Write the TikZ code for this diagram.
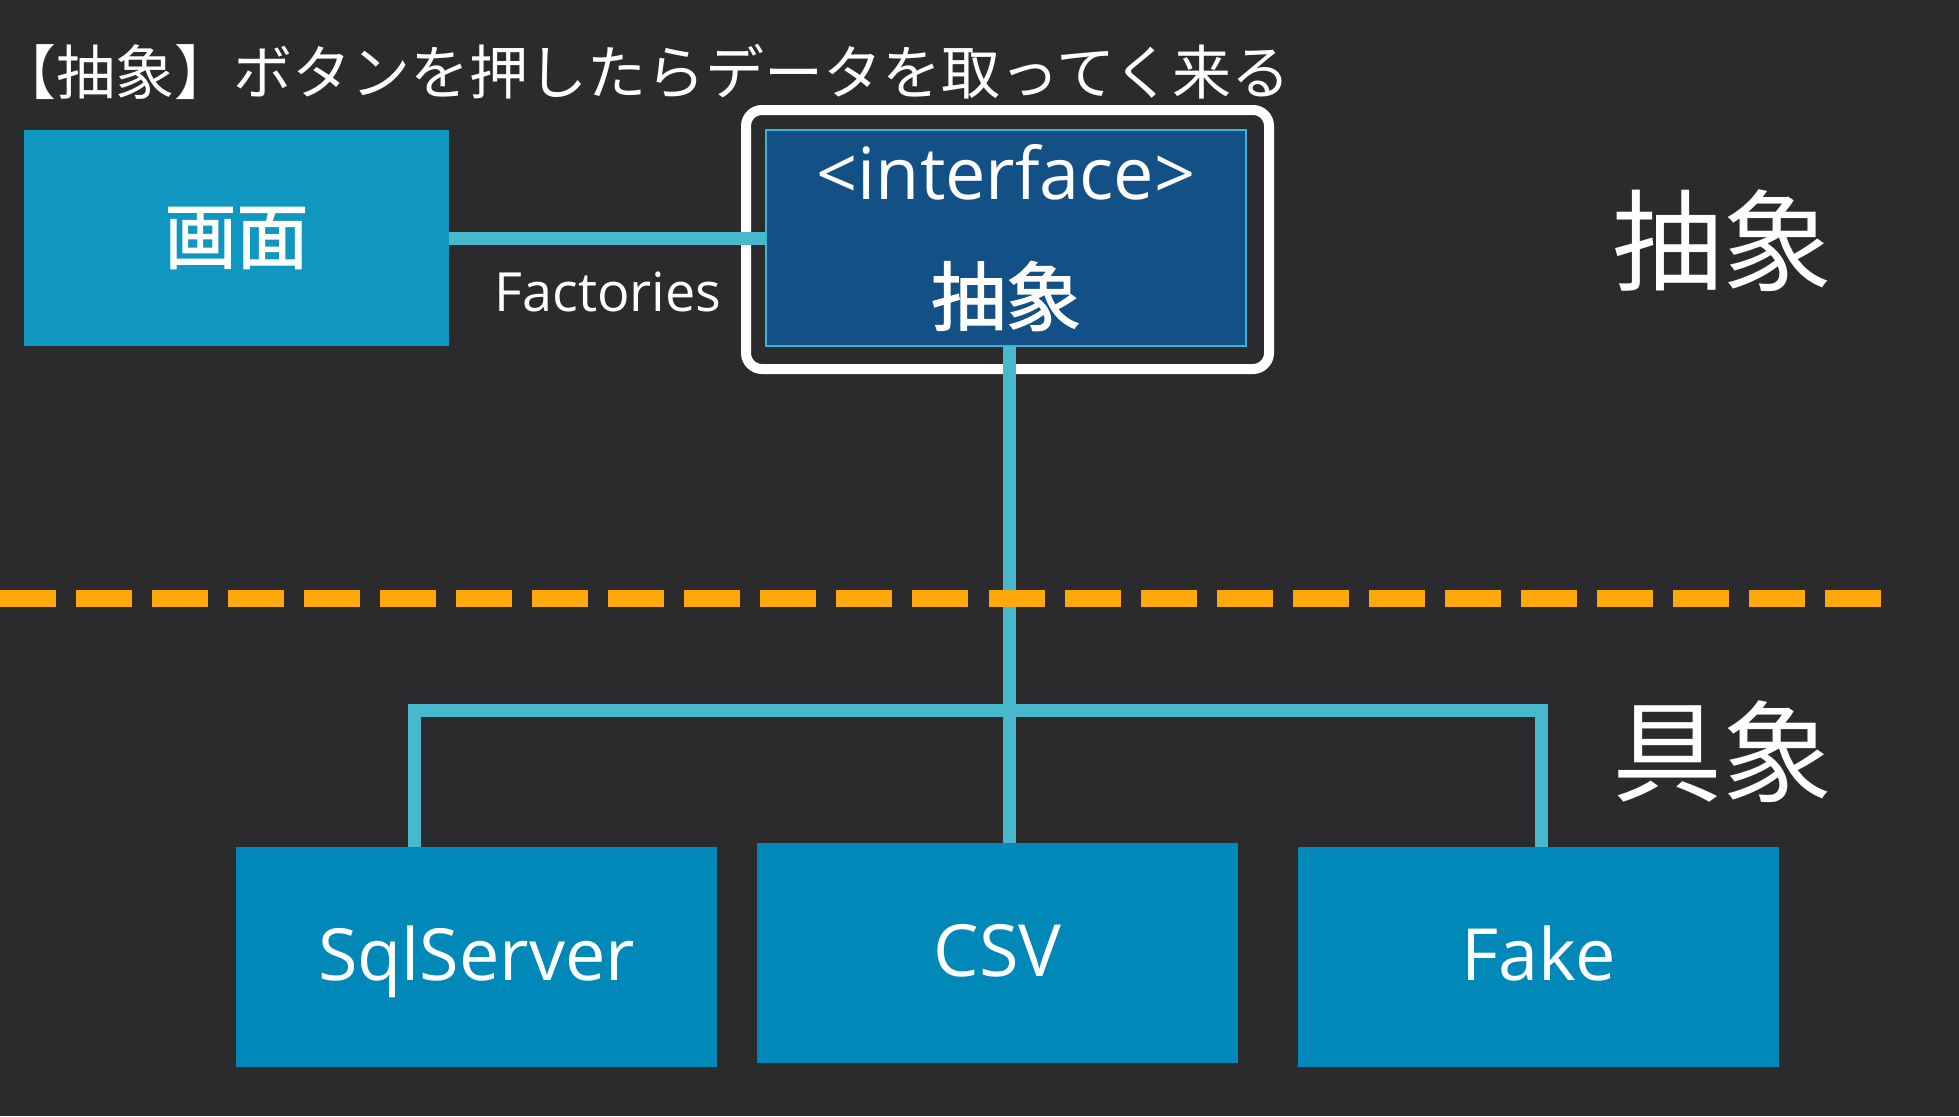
\documentclass[tikz,border=0pt]{standalone}
\usepackage{fontspec}
\setmainfont{Open Sans}
\newfontfamily\jp{Noto Sans CJK JP}
\newfontfamily\jpmed[FakeBold=1.6]{Noto Sans CJK JP}
\definecolor{bg}{HTML}{2B2B2D}
\definecolor{boxA}{HTML}{0F97BF}
\definecolor{boxB}{HTML}{0088B8}
\definecolor{ifc}{HTML}{135086}
\definecolor{ifcline}{HTML}{3AB4D4}
\definecolor{wire}{HTML}{48B8CC}
\definecolor{dash}{HTML}{FFA80B}
\tikzset{
  blockbox/.style={draw=none, fill=boxB, minimum width=481pt, minimum height=220pt, inner sep=0pt, text=white, text height=52pt, text depth=6pt, font=\fontsize{72}{80}\selectfont},
  wireline/.style={draw=wire, line width=13pt},
  bigjp/.style={text=white, font=\jp\fontsize{110}{120}\selectfont, inner sep=0pt}
}
\begin{document}
\begin{tikzpicture}[x=1pt, y=-1pt]
\fill[bg] (0,0) rectangle (1959,1116);
\useasboundingbox (0,0) rectangle (1959,1116);

% title
\node[anchor=west, text=white, inner sep=0pt, font=\jp\fontsize{59}{66}\selectfont] (title) at (-3,72) {【抽象】ボタンを押したらデータを取ってく来る};

% boxes
\node[fill=boxA, minimum width=425pt, minimum height=216pt, inner sep=0pt, text=white, font=\jpmed\fontsize{72}{78}\selectfont] (gamen) at (236.5,238) {画面};
\node[fill=ifc, draw=ifcline, line width=2pt, minimum width=480pt, minimum height=216pt, inner sep=0pt] (iface) at (1006,238) {};
\node[text=white, inner sep=0pt, font=\fontsize{72}{80}\selectfont] (ifacetxt) at (1006,172) {<interface>};
\node[text=white, inner sep=0pt, font=\jpmed\fontsize{75}{80}\selectfont] (ifacejp) at (1006,296) {抽象};
\node[draw=white, line width=10pt, rounded corners=16pt, minimum width=523pt, minimum height=259pt, inner sep=0pt] (frame) at (1007.5,239.5) {};

\node[blockbox] (sql) at (476.5,957) {SqlServer};
\node[blockbox] (csv) at (997.5,953) {CSV};
\node[blockbox] (fake) at (1538.5,957) {Fake};

% labels
\node[text=white, inner sep=0pt, font=\fontsize{54}{60}\selectfont] (fact) at (608,292) {Factories};
\node[bigjp] (abs) at (1722,241) {抽象};
\node[bigjp] (conc) at (1722,752) {具象};

% connectors
\draw[wireline] (gamen.east) -- (iface.west);
\coordinate (busL) at (414,710);
\coordinate (busR) at (1541,710);
\coordinate (busM) at (1009,710);
\draw[wireline] (iface.south -| busM) -- (busM |- csv.north);
\draw[wireline, line join=miter] (busL |- sql.north) -- (busL) -- (busR) -- (busR |- fake.north);

% dashed separator
\coordinate (dL) at (0,598);
\coordinate (dR) at (1881,598);
\draw[draw=dash, line width=17pt, dash pattern=on 56pt off 20.04pt] (dL) -- (dR);
\end{tikzpicture}
\end{document}
